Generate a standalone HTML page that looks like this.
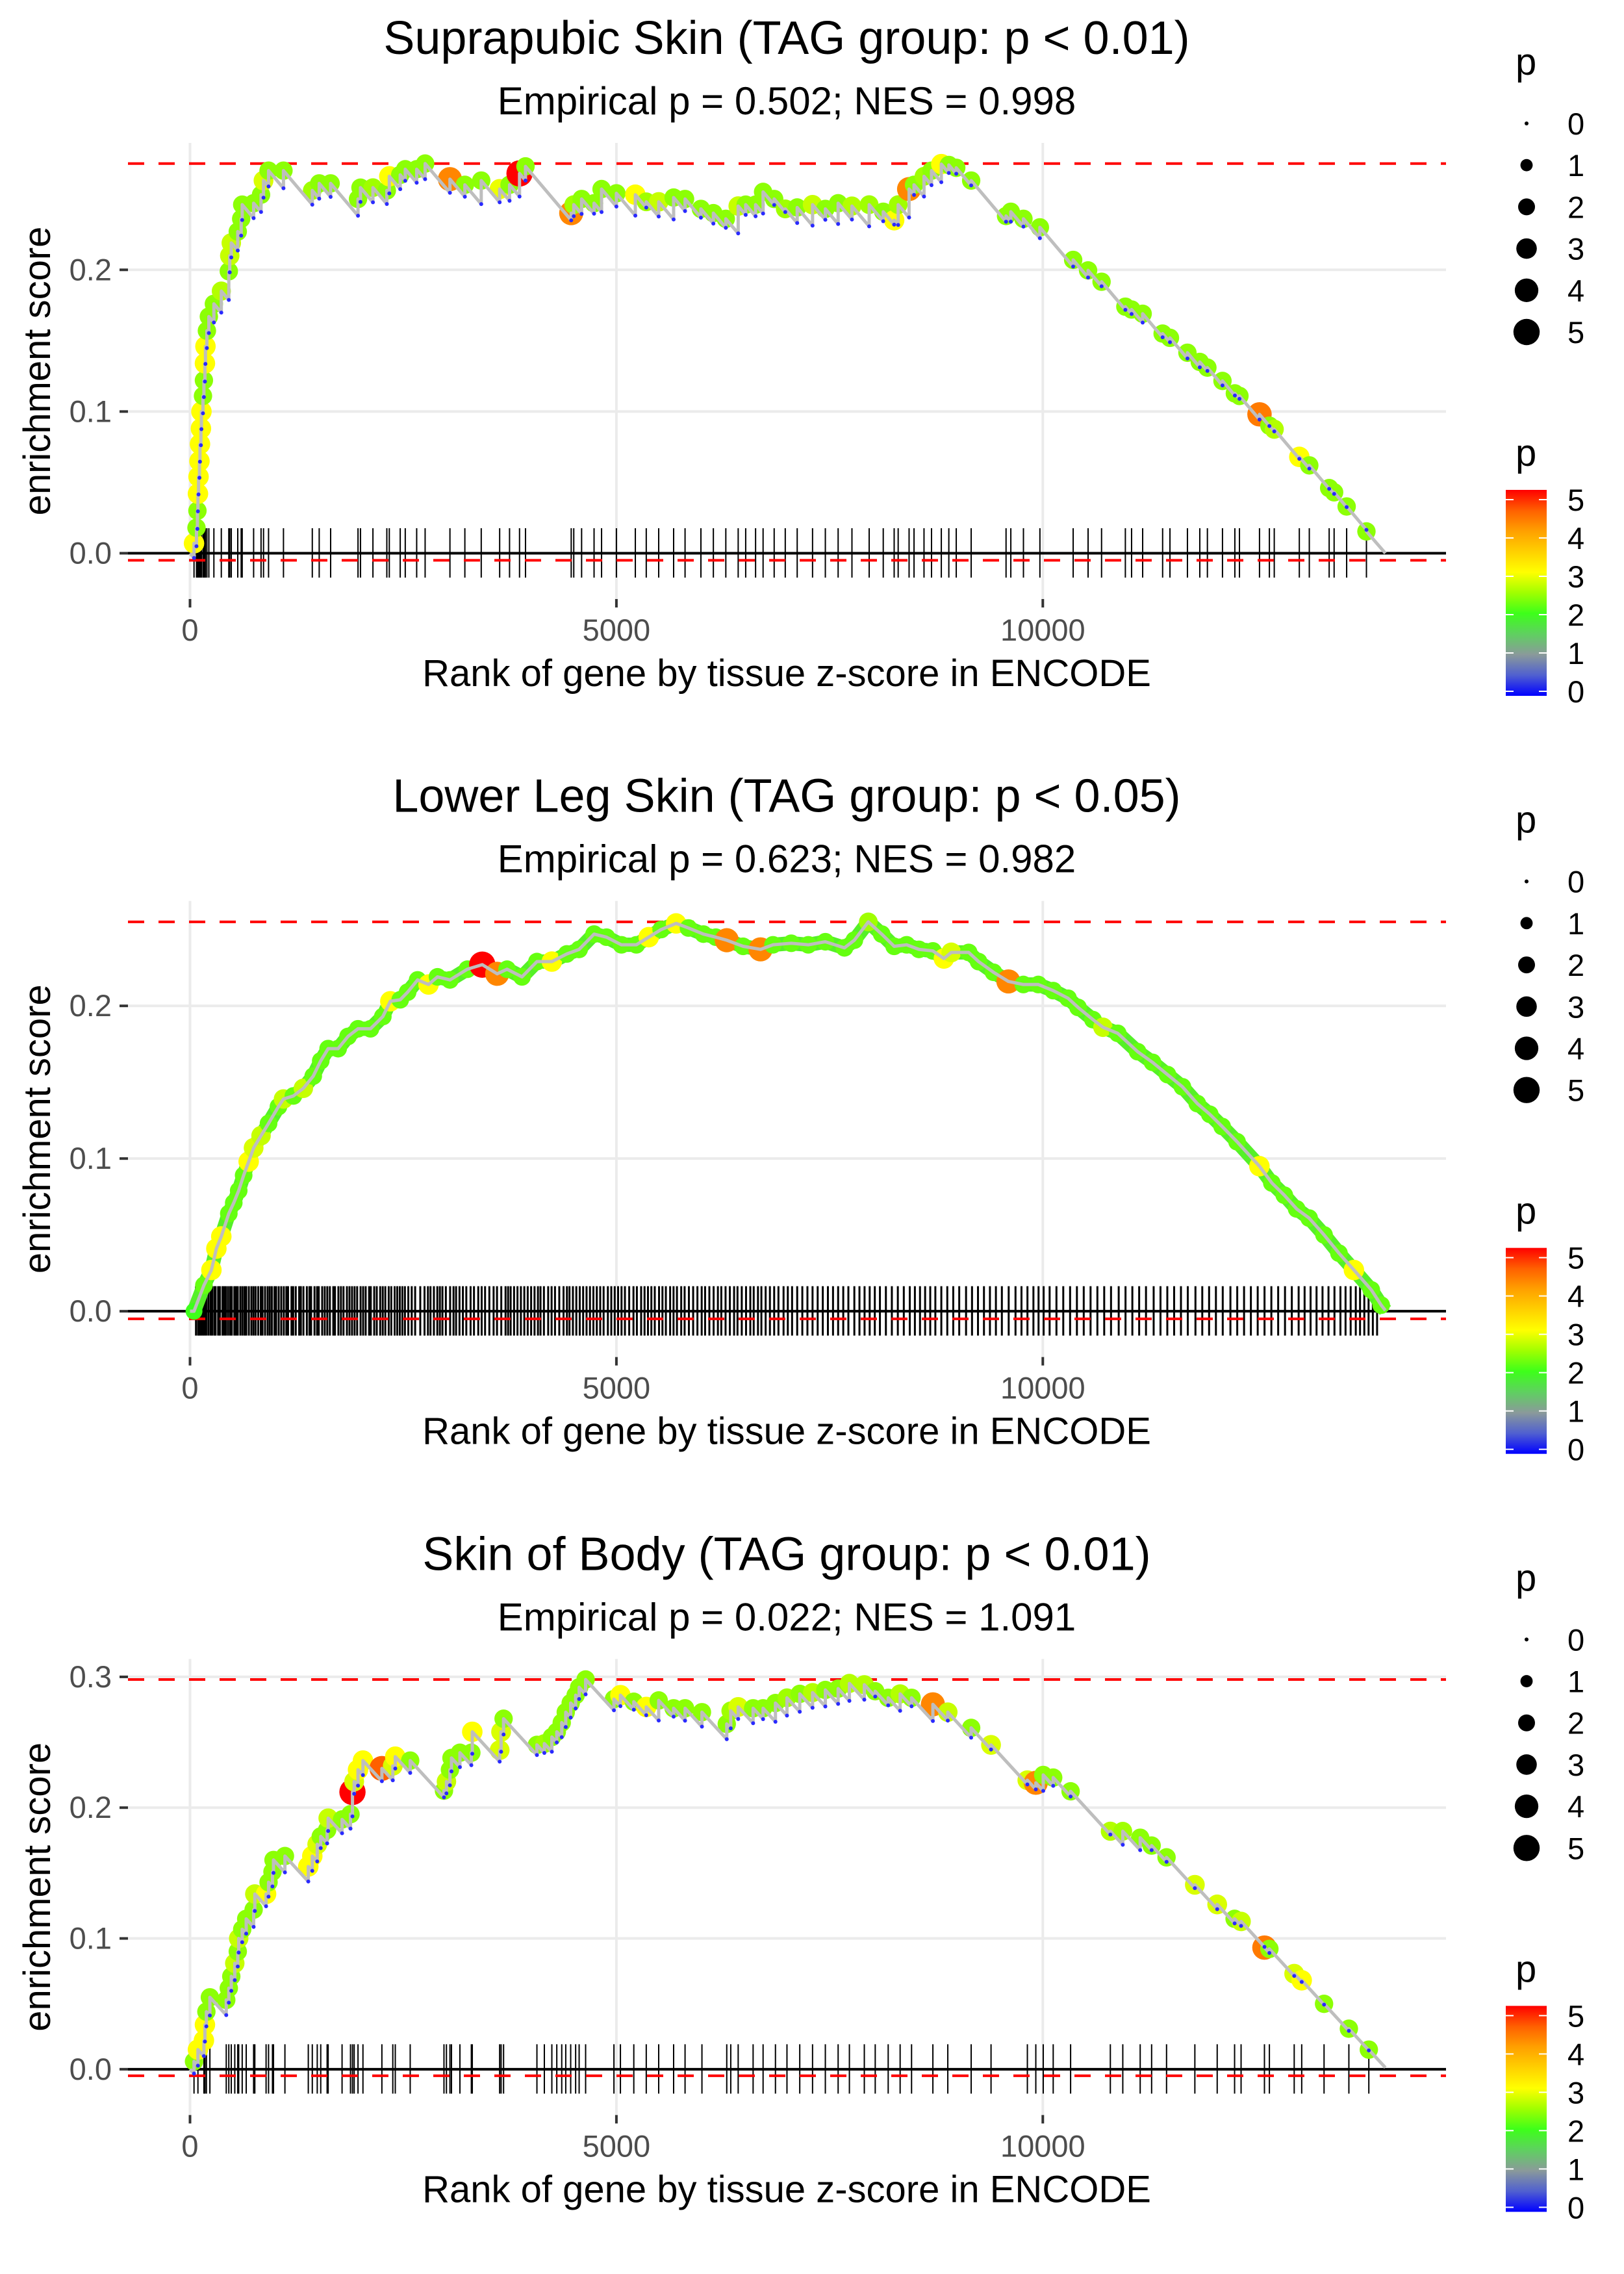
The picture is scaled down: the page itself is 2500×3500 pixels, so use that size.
<!DOCTYPE html>
<html><head><meta charset="utf-8"><title>Enrichment plots</title>
<style>html,body{margin:0;padding:0;background:#fff}svg{display:block}text{font-family:"Liberation Sans",Arial,sans-serif}</style>
</head><body>
<svg id="chart" xmlns="http://www.w3.org/2000/svg" width="2500" height="3500" viewBox="0 0 2500 3500">
<defs>
<linearGradient id="pgrad" x1="0" y1="1" x2="0" y2="0">
<stop offset="0" stop-color="#0000ff"/><stop offset="0.1" stop-color="#5060d0"/><stop offset="0.2" stop-color="#8a9a9a"/>
<stop offset="0.3" stop-color="#5fd060"/><stop offset="0.4" stop-color="#3dff1a"/><stop offset="0.5" stop-color="#a0ff00"/>
<stop offset="0.6" stop-color="#ffff00"/><stop offset="0.7" stop-color="#ffd000"/><stop offset="0.8" stop-color="#ffa000"/>
<stop offset="0.9" stop-color="#ff6000"/><stop offset="1" stop-color="#ff0000"/>
</linearGradient>
</defs>
</svg>
<script>
// ---------- Panel 1: Suprapubic Skin ----------
const ranks1=[47,76,87,93,100,111,117,128,134,152,163,175,181,198,221,280,367,455,466,484,560,600,612,746,833,862,921,1096,1434,1515,1649,1970,1999,2145,2308,2337,2465,2524,2658,2757,3048,3223,3415,3631,3747,3864,3934,
4470,4500,4592,4738,4826,5000,5222,5350,5496,5671,5805,5991,6137,6283,6428,6516,6632,6720,
6850,6980,7120,7300,7450,7600,
7762,7964,8129,8257,8304,8432,8490,8607,8695,8810,8898,8985,9160,9569,9625,9773,9966,10356,10531,10689,10968,11041,11171,11405,11491,11696,11841,11930,12107,12252,12306,12541,12657,12714,13008,13125,13358,13416,13563,13795];
const es1=[0.007,0.018,0.030,0.042,0.054,0.065,0.077,0.088,0.100,0.111,0.122,0.134,0.146,0.157,0.167,0.176,0.185,0.199,0.210,0.219,0.227,0.236,0.246,0.247,0.253,0.263,0.270,0.270,0.256,0.261,0.261,0.250,0.258,0.258,0.256,0.266,0.267,0.271,0.271,0.275,0.264,0.260,0.263,0.257,0.260,0.268,0.273,
0.240,0.246,0.250,0.247,0.257,0.254,0.253,0.248,0.248,0.251,0.250,0.243,0.240,0.236,0.245,0.246,0.246,0.255,
0.250,0.243,0.244,0.246,0.243,0.247,
0.245,0.246,0.241,0.235,0.246,0.257,0.260,0.266,0.270,0.2746,0.274,0.272,0.263,0.238,0.241,0.236,0.230,0.207,0.1996,0.1916,0.174,0.172,0.169,0.155,0.152,0.1415,0.135,0.131,0.1216,0.1128,0.111,0.098,0.090,0.0875,0.068,0.062,0.046,0.043,0.033,0.0154];
const p1=[3.0,2.4,2.4,3.0,3.0,3.0,3.0,3.0,3.0,2.4,2.4,3.0,3.0,2.4,2.4,2.4,2.6,2.4,2.7,2.7,2.4,2.4,2.4,2.4,2.4,2.8,2.4,2.4,2.5,2.4,2.4,2.4,2.4,2.5,2.4,3.0,2.4,2.4,2.4,2.4,4.2,2.4,2.4,2.9,2.4,5.0,2.4,
4.2,2.5,2.4,2.4,2.4,2.4,3.0,2.5,2.7,2.4,2.4,2.4,2.4,2.4,2.7,2.4,2.4,2.4,
2.4,2.5,2.4,2.7,2.4,2.4,
2.6,2.5,2.4,3.0,2.5,4.2,2.4,2.5,2.4,3.0,2.4,2.4,2.4,2.4,2.4,2.4,2.4,2.4,2.4,2.4,2.4,2.4,2.4,2.4,2.4,2.4,2.4,2.4,2.4,2.4,2.4,4.3,2.4,2.6,3.0,2.4,2.4,2.4,2.4,2.4];
const yTicks1=[0,0.1,0.2];

// ---------- Panel 2: Lower Leg Skin ----------
const ranks2=[47,163,251,309,367,455,513,571,629,688,746,833,921,1037,1096,1212,1329,1445,1533,1620,1737,1853,1970,2116,2261,2349,2465,2552,2669,2797,2902,3048,3252,3427,3602,3718,3893,4068,4243,4418,4563,4738,4884,5059,5234,5379,5525,5700,5845,6020,6166,6294,6486,6690,6836,
7050,7250,7450,
7674,7790,7954,8111,8257,8403,8548,8711,8840,8927,9131,9247,9422,9597,9772,9947,10122,10296,10413,10588,10705,10879,11112,11287,11462,11637,11812,11958,12103,12278,12540,12686,12832,12977,13123,13298,13473,13648,13852,13968];
const es2=[0,0.017,0.027,0.041,0.049,0.064,0.071,0.079,0.089,0.098,0.107,0.115,0.123,0.134,0.139,0.141,0.146,0.154,0.164,0.172,0.172,0.180,0.185,0.185,0.193,0.203,0.204,0.209,0.217,0.214,0.219,0.217,0.224,0.227,0.221,0.224,0.219,0.229,0.229,0.234,0.237,0.247,0.245,0.240,0.240,0.245,0.250,0.254,0.251,0.247,0.245,0.243,0.239,0.237,0.240,
0.241,0.240,0.242,
0.238,0.243,0.255,0.247,0.239,0.240,0.237,0.236,0.231,0.235,0.235,0.229,0.222,0.216,0.214,0.214,0.210,0.205,0.199,0.191,0.186,0.182,0.170,0.163,0.155,0.147,0.136,0.129,0.121,0.111,0.095,0.084,0.076,0.067,0.061,0.050,0.038,0.027,0.014,0.004];
const p2=[2.0,2.2,3.0,3.0,3.0,2.2,2.2,2.2,2.2,3.0,2.8,2.7,2.2,2.2,2.7,2.2,2.7,2.2,2.2,2.2,2.2,2.2,2.2,2.2,2.2,3.0,2.2,2.2,2.2,3.0,2.2,2.2,2.2,5.0,4.2,2.2,2.2,2.2,3.0,2.2,2.2,2.2,2.2,2.2,2.2,3.0,2.2,3.0,2.2,2.2,2.2,4.2,2.2,4.2,2.2,
2.2,2.2,2.2,
2.2,2.2,2.5,2.2,2.2,2.2,2.2,2.2,3.0,2.8,2.2,2.2,2.2,4.2,2.2,2.2,2.2,2.2,2.2,2.2,2.7,2.2,2.2,2.2,2.2,2.2,2.2,2.2,2.2,2.2,3.0,2.2,2.2,2.2,2.2,2.2,2.2,3.0,2.2,2.2];
const barcode2=[70,95,110,130,150,170,190,215,240,260,285,300,330,350,380,400,420,445,470,490,520,540,560,590,615,640,660,690,720,745,770,800,830,850,880,910,935,960,990,1010,1040,1070,1100,1130,1150,1190,1210,1240,1280,1300,1330,1370,1400,1420,1460,1490,1510,1550,1580,1610,1640,1680,1700,1740,1770,1800,1840,1870,1900,1930,1960,2000,2030,2060,2100,2120,2160,2190,2230,2260,2290,2330,2360,2400,2430,2460,2490,2520,2560,2600,2640,2700,2750,2790,2820,2860,2900,2930,2960,3000,3050,3090,3120,3160,3200,3240,3290,3330,3380,3420,3460,3510,3560,3600,3650,3700,3730,3760,3800,3840,3880,3920,3960,4000,4040,4080,4110,4150,4200,4240,4280,4330,4380,4420,4450,4490,4530,4570,4610,4650,4690,4730,4770,4810,4850,4900,4940,4980,5020,5060,5100,5150,5200,5240,5290,5330,5370,5410,5450,5500,5540,5580,5630,5670,5710,5760,5800,5850,5900,5950,6000,6040,6090,6140,6190,6230,6280,6330,6380,6420,6470,6520,6570,6610,6660,6700,6750,6800,6850,6900,6960,7010,7060,7120,7180,7240,7300,7360,7420,7480,7540,7600,7660,7720,7790,7850,7910,7970,8030,8090,8160,8230,8300,8370,8440,8500,8560,8620,8680,8740,8810,8880,8950,9020,9100,9170,9240,9310,9380,9450,9520,9600,9680,9750,9820,9890,9950,10010,10080,10160,10240,10320,10400,10480,10560,10640,10720,10800,10890,10970,11050,11130,11210,11300,11380,11460,11540,11620,11700,11790,11870,11950,12030,12110,12200,12280,12360,12440,12520,12600,12680,12760,12840,12920,13000,13070,13140,13210,13280,13350,13420,13490,13550,13610,13670,13720,13770,13820,13870,13920];
const yTicks2=[0,0.1,0.2];

// ---------- Panel 3: Skin of Body ----------
const ranks3=[47,93,163,175,192,233,425,455,484,525,560,571,612,659,746,760,892,921,967,979,1113,1387,1434,1492,1533,1608,1620,1783,1882,1905,1925,1970,2028,2250,2378,2407,2582,2978,3007,3048,3066,3165,3299,3310,3631,3648,3677,4068,4155,4243,4301,4359,4406,4464,4522,4563,4639,4971,5047,5204,5350,5496,5671,5805,6003,6294,6341,6428,6603,6720,6865,
7000,7150,7300,7450,7600,
7732,7907,8035,8187,8327,8461,8711,8886,9160,9393,9819,9918,10005,10122,10326,10792,10938,11142,11276,11451,11783,12045,12249,12325,12599,12657,12948,13036,13298,13589,13823];
const es3=[0.006,0.015,0.022,0.034,0.044,0.055,0.053,0.062,0.071,0.081,0.090,0.100,0.107,0.115,0.122,0.134,0.134,0.143,0.151,0.160,0.163,0.155,0.163,0.172,0.178,0.183,0.192,0.191,0.195,0.212,0.220,0.229,0.236,0.230,0.232,0.239,0.236,0.213,0.220,0.229,0.238,0.242,0.242,0.258,0.244,0.258,0.268,0.248,0.249,0.254,0.258,0.265,0.273,0.280,0.286,0.292,0.298,0.283,0.286,0.281,0.277,0.282,0.276,0.276,0.273,0.264,0.274,0.277,0.276,0.276,0.280,
0.284,0.287,0.288,0.290,0.291,
0.295,0.294,0.289,0.284,0.287,0.284,0.279,0.273,0.261,0.248,0.221,0.219,0.225,0.223,0.2125,0.182,0.182,0.177,0.171,0.162,0.141,0.126,0.115,0.113,0.093,0.092,0.073,0.068,0.050,0.031,0.015];
const p3=[2.4,3.0,3.0,3.0,2.4,2.4,2.4,2.4,2.4,2.7,2.4,2.7,2.4,2.4,2.4,2.7,3.0,2.4,2.4,2.4,2.4,3.0,3.0,2.8,2.4,2.4,2.7,2.4,2.4,5.0,2.8,3.0,3.0,4.5,2.8,3.0,2.4,2.4,2.7,2.4,2.4,2.4,2.4,3.0,2.8,2.8,2.4,2.4,2.5,2.4,2.4,2.4,2.4,2.4,2.4,2.4,2.4,2.4,3.0,2.4,3.0,2.4,2.4,2.4,2.4,2.4,2.5,2.8,2.4,2.4,2.4,
2.5,2.4,2.6,2.4,2.4,
2.6,2.6,2.4,2.4,2.6,2.4,4.2,2.7,2.4,2.8,2.8,4.2,2.4,2.4,2.4,2.6,2.5,2.4,2.4,2.4,2.8,2.8,2.4,2.7,4.3,2.4,2.8,3.0,2.4,2.4,2.4];
const yTicks3=[0,0.1,0.2,0.3];

const xTicks=[0,5000,10000];
const sizeLegendVals=[0,1,2,3,4,5];
const colorLegendVals=[0,1,2,3,4,5];

const NS="http://www.w3.org/2000/svg";
const svg=document.getElementById('chart');
const TOTAL=14017, SLOPE=7.1e-5;
function mk(tag,attrs,parent){const e=document.createElementNS(NS,tag);for(const k in attrs)e.setAttribute(k,attrs[k]);(parent||svg).appendChild(e);return e;}
const stops=[[0,[0,0,255]],[0.5,[80,96,208]],[1,[138,154,154]],[1.5,[95,208,96]],[2,[61,255,26]],[2.5,[160,255,0]],[3,[255,255,0]],[3.5,[255,208,0]],[4,[255,160,0]],[4.5,[255,96,0]],[5,[255,0,0]]];
function col(p){p=Math.max(0,Math.min(5,p));for(let i=1;i<stops.length;i++){if(p<=stops[i][0]){const a=stops[i-1],b=stops[i];const t=(p-a[0])/(b[0]-a[0]);const c=a[1].map((v,j)=>Math.round(v+(b[1][j]-v)*t));return 'rgb('+c.join(',')+')';}}return 'red';}
function rad(p){return Math.sqrt(9+80*p);}
const xS=r=>292.5+r*0.13128;
const L=197,R=2226,T=220,B=922;

function drawPanel(idx,off,title,sub,ranks,es,ps,yTicks,ppu,saw,barcode,tube){
  const g=mk('g',{});
  
  
  const yS=v=>off+851.5-v*ppu;
  let t=mk('text',{x:1211,y:off+83,'font-size':72,'text-anchor':'middle',fill:'#000'},g);t.textContent=title;
  
  t=mk('text',{x:1211,y:off+176,'font-size':60,'text-anchor':'middle',fill:'#000'},g);t.textContent=sub;
  
  // grid
  for(const v of yTicks){const l=mk('line',{x1:L,x2:R,y1:yS(v),y2:yS(v),stroke:'#ebebeb','stroke-width':4},g);
    }
  for(const v of xTicks){const l=mk('line',{x1:xS(v),x2:xS(v),y1:off+T,y2:off+B,stroke:'#ebebeb','stroke-width':4},g);
    }
  // ticks & labels
  for(const v of yTicks){
    const tk=mk('line',{x1:184,x2:197,y1:yS(v),y2:yS(v),stroke:'#333','stroke-width':4},g);
    
    const lb=mk('text',{x:172,y:yS(v)+16,'font-size':47,'text-anchor':'end',fill:'#4d4d4d'},g);lb.textContent=v.toFixed(1);
    
  }
  for(const v of xTicks){
    const tk=mk('line',{x1:xS(v),x2:xS(v),y1:off+B,y2:off+B+13,stroke:'#333','stroke-width':4},g);
    
    const lb=mk('text',{x:xS(v),y:off+986,'font-size':47,'text-anchor':'middle',fill:'#4d4d4d'},g);lb.textContent=String(v);
    
  }
  t=mk('text',{x:1211,y:off+1056,'font-size':58,'text-anchor':'middle',fill:'#000'},g);t.textContent='Rank of gene by tissue z-score in ENCODE';
  
  t=mk('text',{x:0,y:0,'font-size':58,'text-anchor':'middle',fill:'#000',transform:'translate(77,'+(off+571)+') rotate(-90)'},g);t.textContent='enrichment score';
  
  // zero line
  let l=mk('line',{x1:L,x2:R,y1:yS(0),y2:yS(0),stroke:'#000','stroke-width':4},g);
  
  // barcode
  const bars=barcode||ranks;
  for(const r of bars){const b=mk('line',{x1:xS(r),x2:xS(r),y1:off+813,y2:off+889,stroke:'#000','stroke-width':barcode?3:2},g);
    }
  // red dashed lines
  const mx=Math.max(...es);
  for(const v of [mx,-0.005]){const d=mk('line',{x1:L,x2:R,y1:yS(v),y2:yS(v),stroke:'#ff0000','stroke-width':4,'stroke-dasharray':'25 22'},g);
    }
  // path
  let dstr='M'+xS(0)+','+yS(0);const troughs=[];let pr=0,pe=0;
  for(let i=0;i<ranks.length;i++){
    if(saw){const tr=pe-SLOPE*(ranks[i]-pr);dstr+=' L'+xS(ranks[i])+','+yS(tr);troughs.push([ranks[i],tr]);}
    dstr+=' L'+xS(ranks[i])+','+yS(es[i]);pr=ranks[i];pe=es[i];
  }
  dstr+=' L'+xS(TOTAL)+','+yS(Math.max(0,pe-SLOPE*(TOTAL-pr)));
  if(tube){const tb=mk('path',{d:dstr,fill:'none',stroke:'#55f028','stroke-width':22,'stroke-linejoin':'round'},g);
    }
  for(let i=0;i<ranks.length;i++){
    const c=mk('circle',{cx:xS(ranks[i]),cy:yS(es[i]),r:rad(ps[i]),fill:col(ps[i])},g);
    
  }
  const pth=mk('path',{d:dstr,fill:'none',stroke:'#bebebe','stroke-width':5,'stroke-linejoin':'round'},g);
  
  for(const tr of troughs){const c=mk('circle',{cx:xS(tr[0]),cy:yS(tr[1]),r:3,fill:'#2a2aff'},g);
    }
  // legends
  const lg=mk('g',{},g);
  t=mk('text',{x:2333,y:off+115,'font-size':58,fill:'#000'},lg);t.textContent='p';
  
  sizeLegendVals.forEach((v,i)=>{const cy=off+190+i*64.2;
    const c=mk('circle',{cx:2350,cy:cy,r:rad(v),fill:'#000'},lg);
    const tx=mk('text',{x:2413,y:cy+17,'font-size':47,fill:'#000'},lg);tx.textContent=String(v);
    });
  const cg=mk('g',{},g);
  t=mk('text',{x:2333,y:off+717,'font-size':58,fill:'#000'},cg);t.textContent='p';
  
  const bar=mk('rect',{x:2318,y:off+754,width:63,height:317,fill:'url(#pgrad)'},cg);
  
  colorLegendVals.forEach(v=>{const cy=off+1064-v*59;
    mk('line',{x1:2318,x2:2330,y1:cy,y2:cy,stroke:'#fff','stroke-width':2},cg);
    mk('line',{x1:2369,x2:2381,y1:cy,y2:cy,stroke:'#fff','stroke-width':2},cg);
    const tx=mk('text',{x:2413,y:cy+17,'font-size':47,fill:'#000'},cg);tx.textContent=String(v);
    });
}
drawPanel(0,0,'Suprapubic Skin (TAG group: p < 0.01)','Empirical p = 0.502; NES = 0.998',ranks1,es1,p1,yTicks1,2181,true,null,false);
drawPanel(1,1166.67,'Lower Leg Skin (TAG group: p < 0.05)','Empirical p = 0.623; NES = 0.982',ranks2,es2,p2,yTicks2,2350,false,barcode2,true);
drawPanel(2,2333.33,'Skin of Body (TAG group: p < 0.01)','Empirical p = 0.022; NES = 1.091',ranks3,es3,p3,yTicks3,2013,true,null,false);
</script>
</body></html>
